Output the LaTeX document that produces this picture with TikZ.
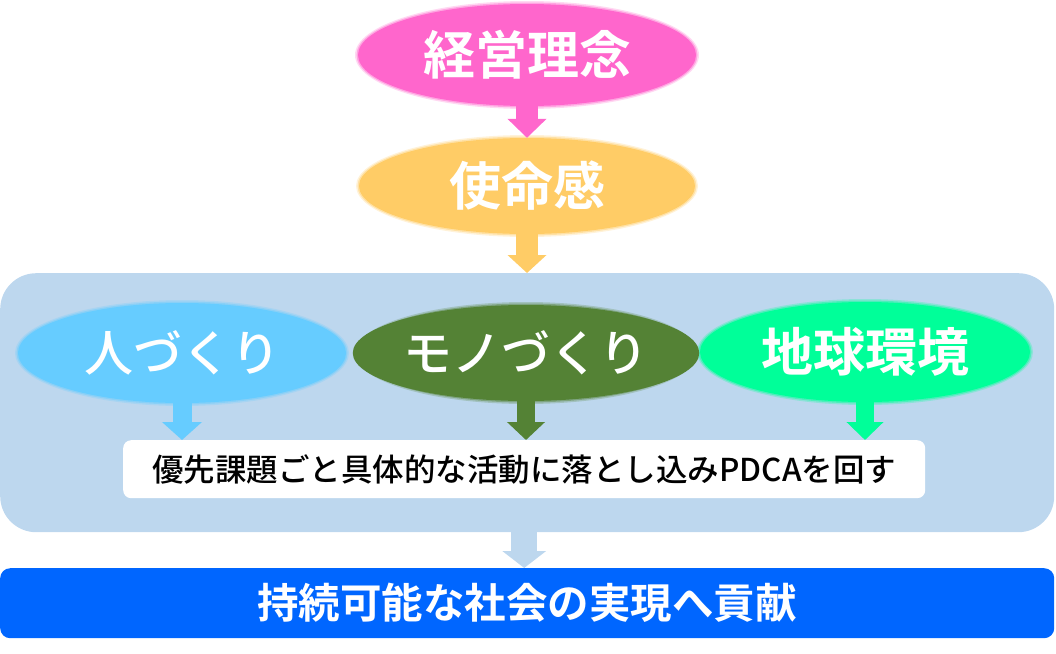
\documentclass[tikz,border=0pt]{standalone}
\usepackage{fontspec}
\setmainfont{Noto Sans CJK JP}[BoldFont={Noto Sans CJK JP Bold}]
\newfontfamily\medfont{Noto Sans CJK JP Medium}
\usetikzlibrary{shapes.geometric,arrows.meta,calc}
\definecolor{pinkc}{HTML}{FF66CC}
\definecolor{orangec}{HTML}{FFCC66}
\definecolor{skyc}{HTML}{66CCFF}
\definecolor{olivec}{HTML}{548235}
\definecolor{mintc}{HTML}{00FF99}
\definecolor{panelc}{HTML}{BDD7EE}
\definecolor{barc}{HTML}{0066FF}
\tikzset{
  softell/.style={ellipse, inner sep=0pt, text=white, font=\fontsize{52}{52}\selectfont},
  blockarrow/.style={line width=#1, line cap=butt},
  panel/.style={fill=panelc, rounded corners=36pt, inner sep=0pt, anchor=north west},
  whitebox/.style={fill=white, rounded corners=8pt, inner sep=0pt, anchor=north west,
    font=\medfont\fontsize{31.5}{31.5}\selectfont, text=black},
  bluebar/.style={fill=barc, rounded corners=10pt, inner sep=0pt, anchor=north west,
    font=\bfseries\fontsize{41.5}{41.5}\selectfont, text=white},
}
\newcommand\halo[4]{%
  \fill[#4, opacity=0.25] (#1) ellipse [x radius=#2+3pt, y radius=#3+3pt];
  \fill[#4, opacity=0.45] (#1) ellipse [x radius=#2+1.5pt, y radius=#3+1.5pt];
}
\begin{document}
\begin{tikzpicture}[x=1pt, y=-1pt]
\useasboundingbox (0,0) rectangle (1056,653);
% panel and bar
\node[panel, minimum width=1054pt, minimum height=259pt] (panel) at (0,273) {};
\node[bluebar, minimum width=1054pt, minimum height=70pt] (bar) at (0,568) {持続可能な社会の実現へ貢献};
% centres
\coordinate (c1) at (527,55);
\coordinate (c2) at (527,186);
\coordinate (c3) at (182,353);
\coordinate (c4) at (526,353);
\coordinate (c5) at (865,352);
\halo{c1}{169pt}{51pt}{pinkc}
\halo{c2}{168pt}{48pt}{orangec}
\halo{c3}{164pt}{50pt}{skyc}
\halo{c4}{168pt}{48pt}{olivec}
\halo{c5}{165pt}{50pt}{mintc}
\node[softell, fill=pinkc, minimum width=338pt, minimum height=102pt] (e1) at (c1) {\bfseries 経営理念};
\node[softell, fill=orangec, minimum width=336pt, minimum height=96pt] (e2) at (c2) {\bfseries 使命感};
\node[softell, fill=skyc, minimum width=328pt, minimum height=100pt, font=\medfont\fontsize{49}{49}\selectfont] (e3) at (c3) {人づくり};
\node[softell, fill=olivec, minimum width=336pt, minimum height=96pt, font=\medfont\fontsize{49}{49}\selectfont] (e4) at (c4) {モノづくり};
\node[softell, fill=mintc, minimum width=330pt, minimum height=100pt] (e5) at (c5) {\bfseries 地球環境};
% white box
\node[whitebox, minimum width=802pt, minimum height=58pt] (box) at (123,440) {優先課題ごと具体的な活動に落とし込みPDCAを回す};
% arrows
\draw[pinkc, blockarrow=22pt, -{Triangle[length=19pt,width=38pt]}] (e1.south) -- (e2.north);
\draw[orangec, blockarrow=22pt, -{Triangle[length=18pt,width=38pt]}] (e2.south) -- (e2.south |- panel.north);
\draw[skyc, blockarrow=19pt, -{Triangle[length=18pt,width=39pt]}] (e3.south) -- (e3.south |- box.north);
\draw[olivec, blockarrow=18pt, -{Triangle[length=18pt,width=37pt]}] (e4.south) -- (e4.south |- box.north);
\draw[mintc, blockarrow=18pt, -{Triangle[length=18pt,width=36pt]}] (e5.south) -- (e5.south |- box.north);
\draw[panelc, blockarrow=26pt, -{Triangle[length=17pt,width=43pt]}] (panel.south -| box.north) -- (bar.north -| box.north);
\end{tikzpicture}
\end{document}
